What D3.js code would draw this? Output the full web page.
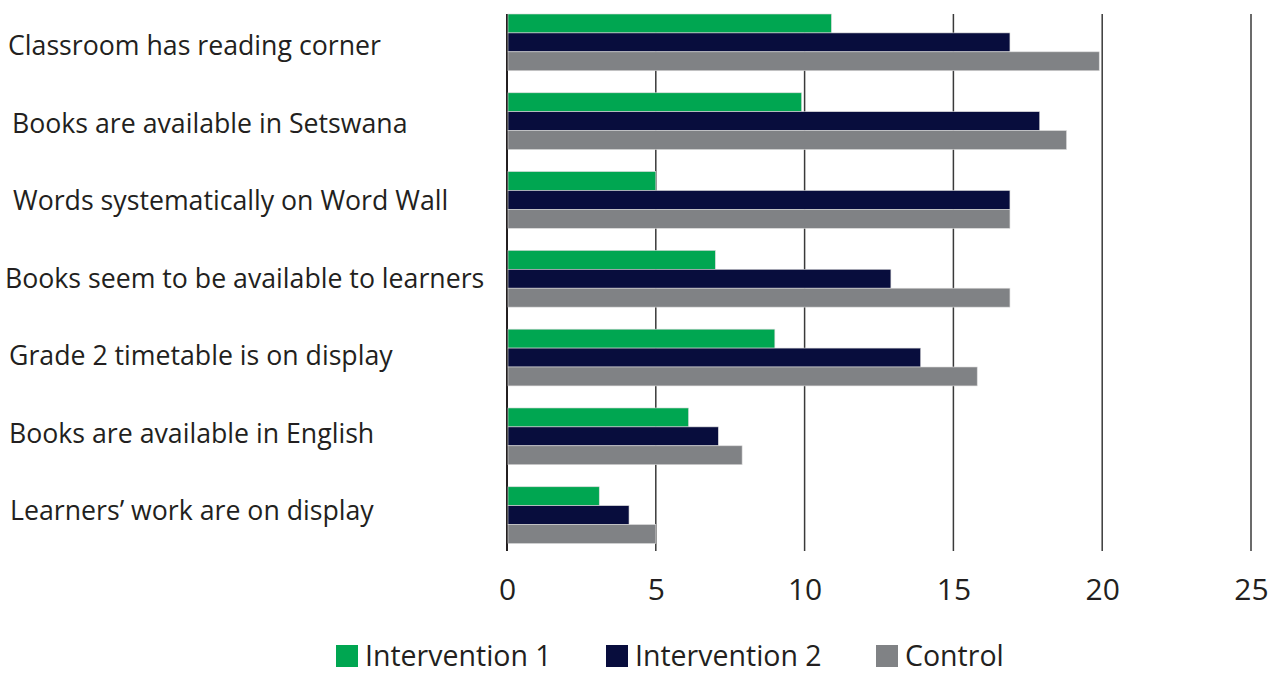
<!DOCTYPE html>
<html>
<head>
<meta charset="utf-8">
<script src="https://cdn.jsdelivr.net/npm/d3@7"></script>
<style>
  body { margin: 0; background: #fff; }
  svg text { font-family: "Open Sans", sans-serif; fill: #231f20; }
</style>
</head>
<body>
<svg id="chart" width="1282" height="673"></svg>
<script>
// categories, top to bottom
var categories = [
    "Classroom has reading corner",
    "Books are available in Setswana",
    "Words systematically on Word Wall",
    "Books seem to be available to learners",
    "Grade 2 timetable is on display",
    "Books are available in English",
    "Learners\u2019 work are on display"
];
var seriesNames = ["Intervention 1", "Intervention 2", "Control"];
var intervention1 = [10.9, 9.9, 5.0, 7.0, 9.0, 6.1, 3.1];
var intervention2 = [16.9, 17.9, 16.9, 12.9, 13.9, 7.1, 4.1];
var control = [19.9, 18.8, 16.9, 16.9, 15.8, 7.9, 5.0];
var tickValues = [0, 5, 10, 15, 20, 25];
var colors = ["#00a651", "#080d3d", "#808285"];

// label left edges (the original labels are not quite aligned)
var labelX = [8, 12, 13, 5, 9, 9, 10];

var svg = d3.select("#chart"),
    width = +svg.attr("width"),
    height = +svg.attr("height");

var x = d3.scaleLinear()
    .domain([0, 25])
    .range([507, 1251]);

var y = d3.scaleBand()
    .domain(categories)
    .range([14, 543.5])
    .paddingInner(0.28)
    .paddingOuter(0);

var ySub = d3.scaleBand()
    .domain(seriesNames)
    .range([0, y.bandwidth()]);

// labels sit on a slightly tighter pitch than the bars
var yLabel = d3.scalePoint()
    .domain(categories)
    .range([48, 513]);

var rows = categories.map(function (c, i) {
    return {cat: c, values: [intervention1[i], intervention2[i], control[i]]};
});

// gridlines
svg.append("g")
    .selectAll("line")
    .data(tickValues)
    .join("line")
    .attr("x1", d => x(d))
    .attr("x2", d => x(d))
    .attr("y1", 14)
    .attr("y2", 551)
    .attr("stroke", d => d == 0 ? "#231f20" : "#3a3a3a")
    .attr("stroke-width", d => d == 0 ? 2 : 1.5);

// bars
var groups = svg.append("g")
    .selectAll("g")
    .data(rows)
    .join("g")
    .attr("transform", d => "translate(0," + y(d.cat) + ")");

groups.selectAll("rect")
    .data(d => d.values.map((v, j) => ({name: seriesNames[j], value: v, j: j})))
    .join("rect")
    .attr("x", x(0) + 1)
    .attr("y", d => ySub(d.name))
    .attr("width", d => x(d.value) - x(0) - 1)
    .attr("height", ySub.bandwidth())
    .attr("fill", d => colors[d.j])
    .attr("stroke", "#d9d9d9")
    .attr("stroke-width", 0.6);

// category labels
svg.append("g")
    .selectAll("text")
    .data(categories)
    .join("text")
    .attr("x", (d, i) => labelX[i])
    .attr("y", d => yLabel(d))
    .attr("dominant-baseline", "middle")
    .style("font-size", "26.7px")
    .text(d => d);

// x axis tick labels
var xAxis = d3.axisBottom(x)
    .tickValues(tickValues)
    .tickSize(0)
    .tickPadding(0);

var axisG = svg.append("g")
    .attr("transform", "translate(0,600)")
    .call(xAxis);
axisG.select(".domain").remove();
axisG.selectAll("text")
    .attr("dy", 0)
    .attr("y", 0)
    .style("font-size", "30px")
    .style("font-family", "'Open Sans', sans-serif")
    .attr("fill", "#231f20");

// legend
var legendX = [336, 606, 876];
var legend = svg.append("g")
    .selectAll("g")
    .data(seriesNames)
    .join("g")
    .attr("transform", (d, i) => "translate(" + legendX[i] + ",645)");
legend.append("rect")
    .attr("width", 22)
    .attr("height", 22)
    .attr("fill", (d, i) => colors[i]);
legend.append("text")
    .attr("x", 29)
    .attr("y", 21)
    .style("font-size", "28.5px")
    .text(d => d);
</script>
</body>
</html>
